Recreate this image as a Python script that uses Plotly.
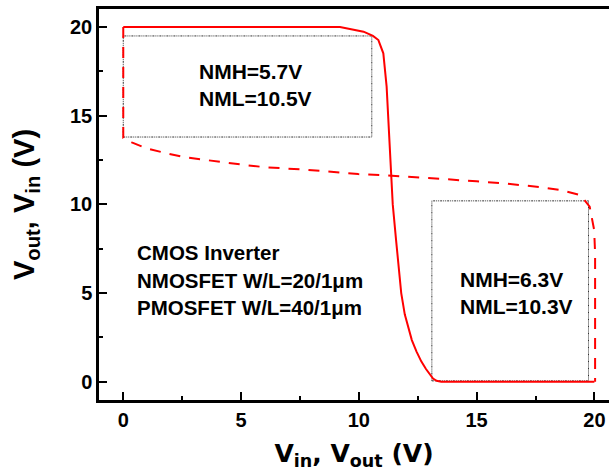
import plotly.graph_objects as go

# Voltage transfer characteristic: Vout as a function of Vin
vtc_vin = [0, 9.2, 10.2, 10.6, 10.83, 11.04, 11.18, 11.32, 11.38, 11.44, 11.58,
           11.68, 11.8, 11.95, 12.1, 12.25, 12.45, 12.65, 12.85, 13.0, 13.15,
           13.3, 13.5, 20.0]
vtc_vout = [20.0, 20.0, 19.74, 19.5, 19.27, 18.52, 16.64, 13.25, 11.8, 10.0, 8.0,
            6.5, 5.0, 3.8, 3.0, 2.35, 1.7, 1.15, 0.72, 0.42, 0.18,
            0.05, 0.0, 0.0]

# Mirrored characteristic (axes swapped) for the butterfly plot
mir_x = [0, 0, 0.36, 0.99, 1.84, 2.62, 3.54, 4.32, 5.17, 6.0, 6.87, 7.7, 8.5,
         9.4, 9.97, 11.0, 12.0, 13.6, 15.0, 16.1, 17.7, 18.6, 19.4, 19.8,
         19.99, 20.03, 20.03]
mir_y = [20.0, 13.75, 13.5, 13.16, 12.88, 12.66, 12.5, 12.35, 12.22, 12.1,
         12.04, 11.96, 11.88, 11.79, 11.71, 11.65, 11.55, 11.43, 11.3, 11.19,
         10.98, 10.8, 10.53, 9.87, 8.56, 7.26, 0.0]

# Noise-margin rectangles (x0, x1, y0, y1)
box_high = [0.0, 10.55, 13.8, 19.5]
box_low = [13.1, 19.75, 0.05, 10.2]

nm_high_text = ["NMH=5.7V", "NML=10.5V"]
nm_low_text = ["NMH=6.3V", "NML=10.3V"]
device_text = ["CMOS Inverter", "NMOSFET W/L=20/1\u03bcm", "PMOSFET W/L=40/1\u03bcm"]

x_ticks = [0, 5, 10, 15, 20]
y_ticks = [0, 5, 10, 15, 20]

FONT = "Liberation Sans, Arial, sans-serif"
WIDE_FONT = "DejaVu Sans, Verdana, sans-serif"
RED = "#ff0000"

fig = go.Figure()


def rect_path(b):
    x0, x1, y0, y1 = b
    return [x0, x1, x1, x0, x0], [y0, y0, y1, y1, y0]


for b in (box_high, box_low):
    bx, by = rect_path(b)
    fig.add_trace(go.Scatter(x=bx, y=by, mode="lines",
                             line=dict(color="#333333", width=1,
                                       dash="2px,1px,1px,1px,1px,1px"),
                             hoverinfo="skip"))

fig.add_trace(go.Scatter(x=mir_x, y=mir_y, mode="lines",
                         line=dict(color=RED, width=2, dash="11px,9px")))
fig.add_trace(go.Scatter(x=vtc_vin, y=vtc_vout, mode="lines",
                         line=dict(color=RED, width=2)))

ann = []
for txt, yy in zip(nm_high_text, [17.5, 15.97]):
    ann.append(dict(x=3.13, y=yy, text=f"<b>{txt}</b>", xanchor="left"))
for txt, yy in zip(nm_low_text, [5.74, 4.27]):
    ann.append(dict(x=14.21, y=yy, text=f"<b>{txt}</b>", xanchor="left"))
for txt, yy in zip(device_text, [7.31, 5.73, 4.21]):
    ann.append(dict(x=0.5, y=yy, text=f"<b>{txt}</b>", xanchor="left",
                    font=dict(size=20.5, family=FONT, color="black")))
for a in ann:
    a.setdefault("font", dict(size=21, family=FONT, color="black"))
    a.update(xref="x", yref="y", showarrow=False, yanchor="middle")

axis_common = dict(
    showgrid=False, zeroline=False,
    showline=True, linecolor="black", linewidth=2.5,
    ticks="inside", ticklen=8, tickwidth=2, tickcolor="black",
    tickfont=dict(size=20, family=FONT, color="black"),
    minor=dict(ticks="inside", ticklen=4, tickwidth=2, tickcolor="black", dtick=2.5),
)

fig.update_layout(
    width=610, height=475,
    margin=dict(l=99, r=1, t=9, b=75),
    paper_bgcolor="white", plot_bgcolor="white",
    showlegend=False,
    annotations=ann,
    xaxis=dict(axis_common, range=[-1.03, 20.62], tickvals=x_ticks,
               ticktext=[f"<b>{v}</b>" for v in x_ticks], mirror=True,
               title=dict(text="<b>V<sub>in</sub>, V<sub>out</sub> (V)</b>",
                          font=dict(size=25, family=WIDE_FONT, color="black"),
                          standoff=15)),
    yaxis=dict(axis_common, range=[-1.03, 21.02], tickvals=y_ticks,
               ticktext=[f"<b>{v}</b>" for v in y_ticks],
               title=dict(text="<b>V<sub>out</sub>, V<sub>in</sub> (V)</b>",
                          font=dict(size=29, family=FONT, color="black"),
                          standoff=27)),
)

fig.write_html("out.html")
